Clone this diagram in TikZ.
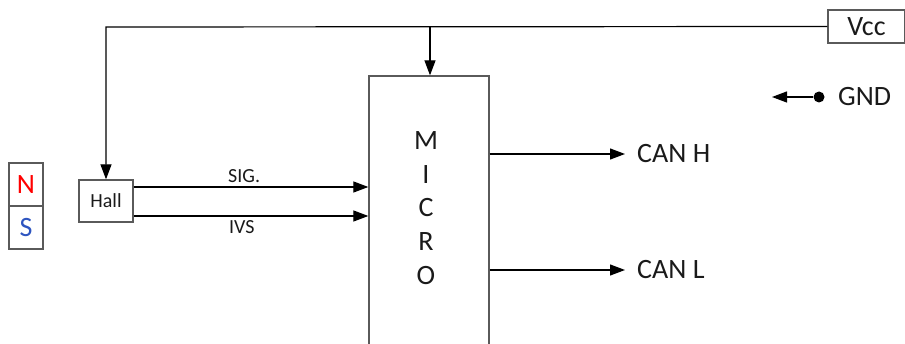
\documentclass[tikz,border=0pt]{standalone}
\usepackage{fontspec}
\setmainfont{Carlito}
\usetikzlibrary{arrows.meta}
\definecolor{boxgray}{HTML}{5A5A5A}
\definecolor{sblue}{HTML}{2E55C0}
\definecolor{txt}{HTML}{1A1A1A}
\begin{document}
\begin{tikzpicture}[x=1pt,y=-1pt,
  box/.style={draw=boxgray,line width=1.3pt,inner sep=0pt,fill=white},
  big/.style={font=\fontsize{28}{33}\selectfont,text=txt},
  small/.style={font=\fontsize{20}{24}\selectfont,text=txt},
  arr/.style={draw=black,line width=1.2pt,-{Triangle[length=15pt,width=11pt]}},
  wire/.style={draw=black,line width=1.2pt}]
\useasboundingbox (0,0) rectangle (905,344);
\clip (0,0) rectangle (905,344);
% boxes
\node[box,big,minimum width=77pt,minimum height=33pt] (vcc) at (866.5,26.5) {Vcc};
\node[box,minimum width=120pt,minimum height=304pt] (micro) at (429,228) {};
\node[big,align=center,inner sep=0pt,font=\fontsize{28}{33.75}\selectfont] (microtxt) at (426,208) {M\\I\\C\\R\\O};
\node[box,small,minimum width=54pt,minimum height=42pt] (hall) at (106,201) {Hall};
\node[box,big,minimum width=34pt,minimum height=43pt,text=red] (north) at (26,184.5) {N};
\node[box,big,minimum width=34pt,minimum height=43pt,text=sblue] (south) at (26,227.5) {S};
% Vcc wiring
\coordinate (tl) at (106,27);
\coordinate (tj) at (430,27);
\draw[arr] (vcc.west) -- (tl) -- (hall.north);
\draw[arr] (tj) -- (tj |- micro.north);
% signals
\draw[arr] ([yshift=14pt]hall.east) -- ([yshift=14pt]hall.east -| micro.west);
\draw[arr] ([yshift=-15pt]hall.east) -- ([yshift=-15pt]hall.east -| micro.west);
\node[small,anchor=base west,inner sep=0pt] (sig) at (228,183) {SIG.};
\node[small,anchor=base west,inner sep=0pt] (ivs) at (229,234) {IVS};
% CAN outputs
\coordinate (ch) at (625,154);
\coordinate (cl) at (625,270);
\draw[arr] (micro.east |- ch) -- (ch);
\draw[arr] (micro.east |- cl) -- (cl);
\node[big,anchor=west,inner sep=0pt] (canh) at (637,154) {CAN H};
\node[big,anchor=west,inner sep=0pt] (canl) at (637,270) {CAN L};
% GND
\node[circle,fill=black,inner sep=0pt,minimum size=11pt] (dot) at (819,97) {};
\coordinate (gndtip) at (772,97);
\draw[arr] (dot) -- (gndtip);
\node[big,anchor=west,inner sep=0pt] (gnd) at (838,97) {GND};
\end{tikzpicture}
\end{document}
